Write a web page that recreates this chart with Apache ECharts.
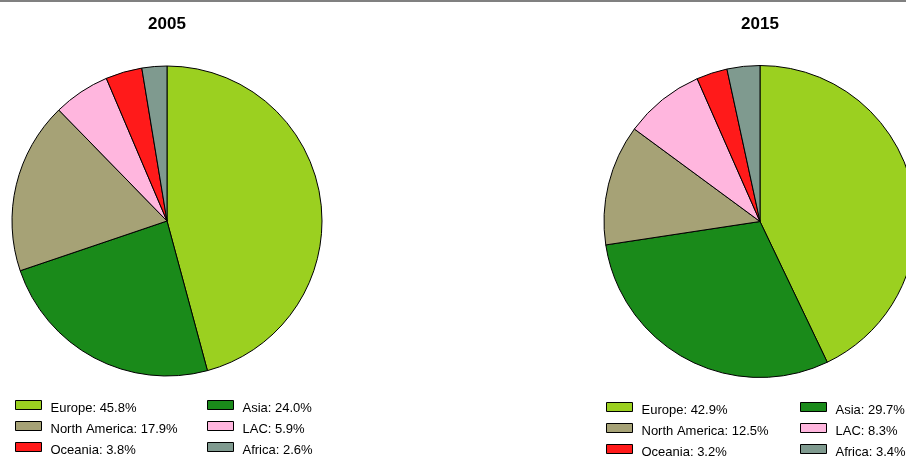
<!DOCTYPE html>
<html><head><meta charset="utf-8">
<script src="https://cdn.jsdelivr.net/npm/echarts@6/dist/echarts.min.js"></script>
<style>html,body{margin:0;padding:0;background:#fff}#c{width:906px;height:461px}</style>
</head><body><div id="c"></div>
<script>
const regions = ['Europe', 'Asia', 'North America', 'LAC', 'Oceania', 'Africa'];
const colors = ['#9BD020', '#1A8A1A', '#A6A276', '#FFB6DE', '#FF1A1A', '#7F9A8F'];
const years = ['2005', '2015'];
const share2005 = [45.8, 24.0, 17.9, 5.9, 3.8, 2.6];
const share2015 = [42.9, 29.7, 12.5, 8.3, 3.2, 3.4];
const legendCol1 = ['Europe', 'North America', 'Oceania'];
const legendCol2 = ['Asia', 'LAC', 'Africa'];

function mkData(vals) {
  return regions.map((r, i) => ({ name: r, value: vals[i], itemStyle: { color: colors[i] } }));
}
function fmt(vals) {
  return name => '{t|' + name + ': ' + vals[regions.indexOf(name)].toFixed(1) + '%}';
}
const font = 'Liberation Sans, Arial, Helvetica, sans-serif';
function mkLegend(names, vals, left, top) {
  return {
    data: names, orient: 'vertical', left: left, top: top, padding: 0, height: 80,
    itemWidth: 26, itemHeight: 9, itemGap: 6, selectedMode: false,
    icon: 'rect',
    itemStyle: { borderColor: '#000', borderWidth: 1 },
    textStyle: { fontFamily: font, fontSize: 13, color: '#000',
      rich: { t: { fontFamily: font, fontSize: 13, color: '#000', padding: [7, 0, 0, 4] } } },
    formatter: fmt(vals)
  };
}
const chart = echarts.init(document.getElementById('c'));
chart.setOption({
  animation: false,
  graphic: [{ type: 'rect', shape: { x: 0, y: 0, width: 906, height: 2 }, style: { fill: '#808080' } }],
  title: [
    { text: years[0], left: 167, top: 16, padding: 0, textAlign: 'center', textStyle: { fontFamily: font, fontSize: 17, fontWeight: 'bold', color: '#000' } },
    { text: years[1], left: 760, top: 16, padding: 0, textAlign: 'center', textStyle: { fontFamily: font, fontSize: 17, fontWeight: 'bold', color: '#000' } }
  ],
  legend: [
    mkLegend(legendCol1, share2005, 15, 400),
    mkLegend(legendCol2, share2005, 207, 400),
    mkLegend(legendCol1, share2015, 606, 402),
    mkLegend(legendCol2, share2015, 800, 402)
  ],
  series: [
    { type: 'pie', name: years[0], center: [167, 221], radius: 155, startAngle: 90, clockwise: true,
      label: { show: false }, labelLine: { show: false }, emphasis: { disabled: true }, silent: true,
      itemStyle: { borderColor: '#000', borderWidth: 1 }, data: mkData(share2005) },
    { type: 'pie', name: years[1], center: [760, 221.5], radius: 156, startAngle: 90, clockwise: true,
      label: { show: false }, labelLine: { show: false }, emphasis: { disabled: true }, silent: true,
      itemStyle: { borderColor: '#000', borderWidth: 1 }, data: mkData(share2015) }
  ]
});
</script></body></html>
